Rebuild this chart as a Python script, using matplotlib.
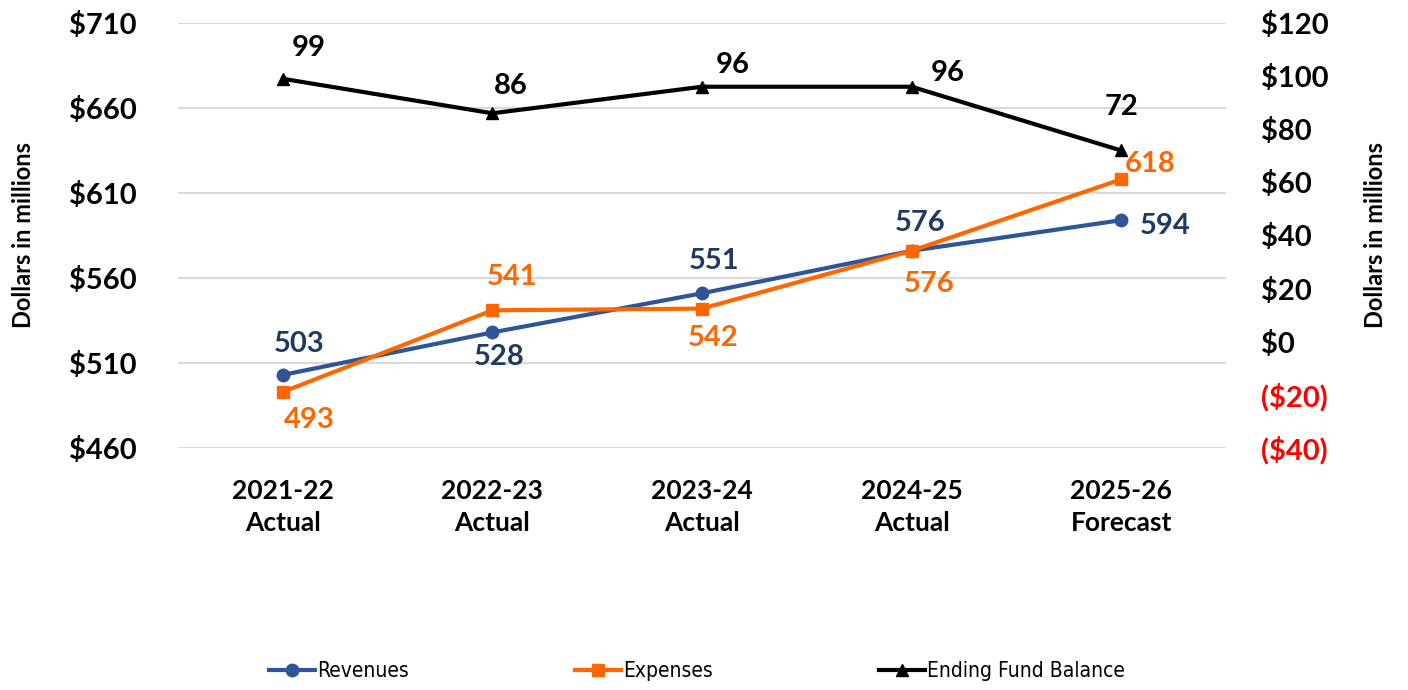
import matplotlib.pyplot as plt
from matplotlib.ticker import FuncFormatter

plt.rcParams['font.family'] = ['Lato', 'DejaVu Sans']

years = ['2021-22\nActual', '2022-23\nActual', '2023-24\nActual', '2024-25\nActual', '2025-26\nForecast']
revenues = [503, 528, 551, 576, 594]
expenses = [493, 541, 542, 576, 618]
fund_balance = [99, 86, 96, 96, 72]

blue = '#2F5597'
blue_txt = '#203864'
orange = '#FF6600'

fig = plt.figure(figsize=(14.08, 6.90), dpi=100)
ax = fig.add_axes([0.1264, 0.3507, 0.7443, 0.6160])
ax2 = ax.twinx()

x = list(range(len(years)))
ax.plot(x, revenues, color=blue, lw=3, marker='o', ms=9, label='Revenues', zorder=3)
ax.plot(x, expenses, color=orange, lw=3, marker='s', ms=8, label='Expenses', zorder=4)
ax2.plot(x, fund_balance, color='black', lw=3, marker='^', ms=9, label='Ending Fund Balance', zorder=3)

ax.set_xlim(-0.5, 4.5)
ax.set_ylim(460, 710)
ax.set_yticks(range(460, 711, 50))
ax.yaxis.set_major_formatter(FuncFormatter(lambda v, p: f'${v:.0f}'))
ax2.set_ylim(-40, 120)
ax2.set_yticks(range(-40, 121, 20))
ax2.yaxis.set_major_formatter(FuncFormatter(lambda v, p: f'(${-v:.0f})' if v < 0 else f'${v:.0f}'))

ax.grid(axis='y', color='#D9D9D9', lw=1.5)
ax.set_axisbelow(True)
for a in (ax, ax2):
    for s in a.spines.values():
        s.set_visible(False)
    a.tick_params(length=0)

ax.set_xticks(x)
ax.set_xticklabels(years, fontsize=19, fontweight='bold', linespacing=1.4)
ax.tick_params(axis='x', pad=22)
ax.tick_params(axis='y', labelsize=21, pad=30)
for t in ax.get_yticklabels():
    t.set_fontweight('bold')
ax2.tick_params(axis='y', labelsize=21, pad=25)
for t, v in zip(ax2.get_yticklabels(), ax2.get_yticks()):
    t.set_fontweight('bold')
    if v < 0:
        t.set_color('red')

ax.set_ylabel('Dollars in millions', fontsize=17, fontweight='bold', labelpad=24)
ax2.set_ylabel('Dollars in millions', fontsize=17, fontweight='bold', labelpad=26)

# data labels (offsets in points)
rev_off = [(12, 22), (5, -18), (9, 23), (6, 20), (32, -4)]
exp_off = [(19, -20), (14, 24), (8, -21), (13, -24), (21, 11)]
bal_off = [(19, 22), (13, 20), (22, 16), (26, 10), (0, 31)]
for i in x:
    ax.annotate(str(revenues[i]), (i, revenues[i]), xytext=rev_off[i], textcoords='offset points',
                ha='center', va='center', fontsize=21, fontweight='bold', color=blue_txt)
    ax.annotate(str(expenses[i]), (i, expenses[i]), xytext=exp_off[i], textcoords='offset points',
                ha='center', va='center', fontsize=21, fontweight='bold', color=orange)
    ax2.annotate(str(fund_balance[i]), (i, fund_balance[i]), xytext=bal_off[i], textcoords='offset points',
                 ha='center', va='center', fontsize=21, fontweight='bold', color='black')

h1, l1 = ax.get_legend_handles_labels()
h2, l2 = ax2.get_legend_handles_labels()
fig.legend(h1 + h2, l1 + l2, loc='center', bbox_to_anchor=(0.495, 0.027), ncol=3, frameon=False,
           prop={'family': 'DejaVu Sans', 'stretch': 'condensed', 'size': 15},
           columnspacing=8, handlelength=2.2, handletextpad=0.1)

fig.savefig('out.png', dpi=100)
